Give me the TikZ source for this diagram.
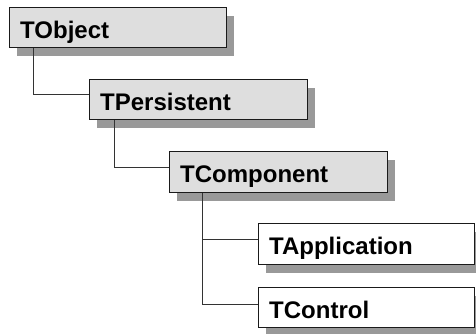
\documentclass[tikz,border=0pt]{standalone}
\usepackage{fontspec}
\setmainfont{Liberation Sans}
\usetikzlibrary{shadows}
\definecolor{boxgray}{HTML}{DEDEDE}
\definecolor{shadowgray}{HTML}{999999}
\definecolor{edge}{HTML}{1A1A1A}
\definecolor{wire}{HTML}{333333}
\begin{document}
\begin{tikzpicture}[x=1pt,y=-1pt,
  classbox/.style={draw=edge, line width=1.4pt, rectangle, anchor=north west,
    inner ysep=0pt, inner xsep=10.5pt, align=left,
    text height=30.5pt, text depth=9.5pt,
    font=\fontsize{24}{24}\selectfont\bfseries,
    general shadow={fill=shadowgray, shadow xshift=7.5pt, shadow yshift=-8.5pt}},
  graybox/.style={classbox, fill=boxgray},
  whitebox/.style={classbox, fill=white},
  wire/.style={draw=wire, line width=1pt}]
\useasboundingbox (0,0) rectangle (476,333);
\node[graybox, text width=196pt] (obj) at (9,7) {TObject};
\node[graybox, text width=197pt] (pers) at (89,79) {TPersistent};
\node[graybox, text width=197pt, text depth=10.5pt] (comp) at (169,151) {TComponent};
\node[whitebox, text width=195pt, text depth=10.5pt] (app) at (258,223) {TApplication};
\node[whitebox, text width=195pt] (ctrl) at (258,287) {TControl};
\draw[wire] ([xshift=24pt]obj.south west) |- ([yshift=5pt]pers.west);
\draw[wire] ([xshift=25pt]pers.south west) |- ([yshift=4.5pt]comp.west);
\draw[wire] ([xshift=33pt]comp.south west) |- ([yshift=4.5pt]app.west);
\draw[wire] ([xshift=33pt]comp.south west) |- ([yshift=3.5pt]ctrl.west);
\end{tikzpicture}
\end{document}
